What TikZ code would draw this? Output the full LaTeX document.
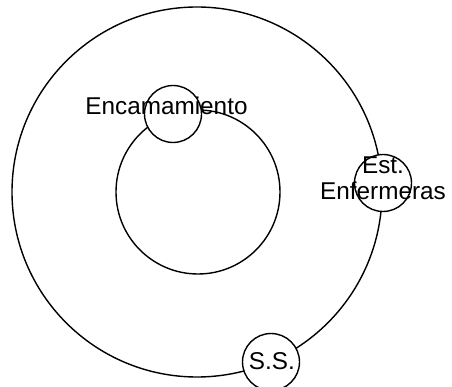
\documentclass[tikz,border=0pt]{standalone}
\usepackage{fontspec}
\setmainfont{Liberation Sans}
\begin{document}
\begin{tikzpicture}[x=1pt,y=-1pt,
  ring/.style={draw=black,line width=1.4pt},
  room/.style={circle,draw=black,line width=1.4pt,fill=white,minimum size=57pt,inner sep=0pt},
  lbl/.style={font=\fontsize{24.3}{26.7}\selectfont,inner sep=0pt,anchor=base,align=center}]
\useasboundingbox (0,0) rectangle (452,387);
\node[ring,circle,minimum size=370pt,inner sep=0pt] (outer) at (197,192) {};
\node[ring,circle,minimum size=164pt,inner sep=0pt] (inner) at (198,192) {};
\node[room] (enc) at (173,114) {};
\node[room] (est) at (383,183) {};
\node[room] (ss) at (271,362) {};
\node[lbl] (tenc) at (166.5,115) {Encamamiento};
\node[lbl] (test) at (383,200) {Est.\\Enfermeras};
\node[lbl] (tss) at (271.8,369.3) {S.S.};
\end{tikzpicture}
\end{document}
